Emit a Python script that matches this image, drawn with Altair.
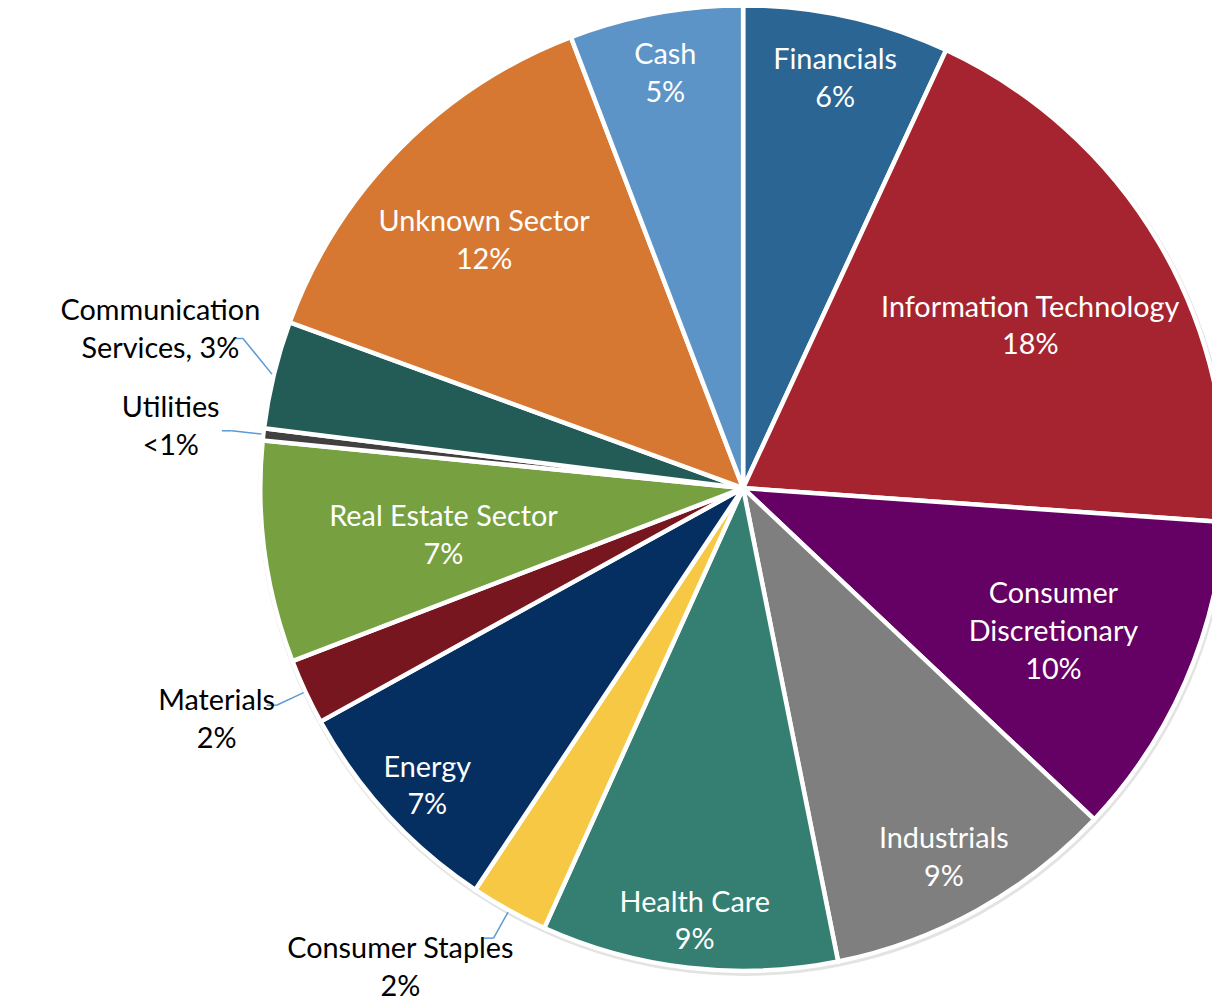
import altair as alt
import pandas as pd

sectors = ["Financials", "Information Technology", "Consumer Discretionary", "Industrials",
           "Health Care", "Consumer Staples", "Energy", "Materials", "Real Estate Sector",
           "Utilities", "Communication Services", "Unknown Sector", "Cash"]
shares = [6.9, 19.2, 10.9, 9.8, 9.9, 2.6, 7.6, 2.2, 7.4, 0.4, 3.6, 13.6, 5.8]
labels = ["Financials\n6%", "Information Technology\n18%", "Consumer\nDiscretionary\n10%",
          "Industrials\n9%", "Health Care\n9%", "Consumer Staples\n2%", "Energy\n7%",
          "Materials\n2%", "Real Estate Sector\n7%", "Utilities\n<1%",
          "Communication\nServices, 3%", "Unknown Sector\n12%", "Cash\n5%"]
colors = ["#2A6594", "#A62430", "#650064", "#7F7F7F", "#347F71", "#F6C843", "#052F61",
          "#77161F", "#77A141", "#404040", "#235C56", "#D67832", "#5D94C7"]

df = pd.DataFrame({"sector": sectors, "share": shares, "label": labels,
                   "idx": list(range(len(sectors)))})
df["nlines"] = [len(s.split("\n")) for s in labels]
df["chars"] = [max(len(p) for p in s.split("\n")) for s in labels]

CX, CY, R = 740, 480, 486
FONT = "Lato"
FS = 29
LH = 38

base = (alt.Chart(df)
        .transform_window(cum="sum(share)", sort=[alt.SortField("idx")], frame=[None, 0])
        .transform_joinaggregate(total="sum(share)")
        .transform_calculate(ang="2*PI*(datum.cum - datum.share/2)/datum.total",
                             frac="datum.share/datum.total"))

shadow = alt.Chart(df).mark_arc(outerRadius=R + 3, color="#d0d0d0", opacity=0.6).encode(
    theta=alt.Theta("share:Q", stack=True),
    order=alt.Order("idx:Q"),
    x=alt.value(CX + 1), y=alt.value(CY + 2))

pie = alt.Chart(df).mark_arc(outerRadius=R, stroke="white", strokeWidth=4.5).encode(
    theta=alt.Theta("share:Q", stack=True),
    order=alt.Order("idx:Q"),
    color=alt.Color("sector:N", scale=alt.Scale(domain=sectors, range=colors), legend=None),
    x=alt.value(CX), y=alt.value(CY))

# best-fit style placement: wide labels in near-horizontal wedges move inward
inside = (base.transform_filter("datum.frac >= 0.04")
          .transform_calculate(w="clamp((datum.chars - 8)/6, 0, 1)")
          .transform_calculate(r="432 - 130*pow(sin(datum.ang), 2)*datum.w")
          .transform_calculate(px=f"{CX} + datum.r*sin(datum.ang)",
                               py=f"{CY} - datum.r*cos(datum.ang) - (datum.nlines - 1)*{LH / 2}")
          .mark_text(font=FONT, fontSize=FS, color="white", lineBreak="\n", lineHeight=LH,
                     align="center", baseline="middle", dy=8)
          .encode(x=alt.X("px:Q", scale=None, axis=None),
                  y=alt.Y("py:Q", scale=None, axis=None),
                  text="label:N"))

# outside labels for thin slices; labels above the horizontal get lifted clear of neighbours
small = (base.transform_filter("datum.frac < 0.04")
         .transform_calculate(lift="clamp((cos(datum.ang) - 0.12)*250, 0, 40)"))

leaders = (small
           .transform_calculate(x1=f"{CX} + {R + 2}*sin(datum.ang)",
                                y1=f"{CY} - {R + 2}*cos(datum.ang)",
                                x2=f"{CX} + {R + 32}*sin(datum.ang)",
                                y2=f"{CY} - {R + 32}*cos(datum.ang) - datum.lift")
           .mark_rule(color="#5B9BD5", strokeWidth=1.5)
           .encode(x=alt.X("x1:Q", scale=None, axis=None),
                   y=alt.Y("y1:Q", scale=None, axis=None),
                   x2="x2:Q", y2="y2:Q"))

leader_tails = (small
                .transform_calculate(x1=f"{CX} + {R + 32}*sin(datum.ang)",
                                     y1=f"{CY} - {R + 32}*cos(datum.ang) - datum.lift")
                .transform_calculate(x2="datum.x1 - 10")
                .mark_rule(color="#5B9BD5", strokeWidth=1.5)
                .encode(x=alt.X("x1:Q", scale=None, axis=None),
                        y=alt.Y("y1:Q", scale=None, axis=None),
                        x2="x2:Q"))

outside = (small
           .transform_calculate(ax=f"{CX} + {R + 44}*sin(datum.ang)",
                                ay=f"{CY} - {R + 44}*cos(datum.ang)")
           .transform_calculate(px="datum.ax - datum.chars*5.5",
                                py=f"datum.ay - datum.lift - cos(datum.ang)*datum.nlines*{LH}*0.3 - (datum.nlines - 1)*{LH / 2}")
           .mark_text(font=FONT, fontSize=FS, color="black", lineBreak="\n", lineHeight=LH,
                      align="center", baseline="middle")
           .encode(x=alt.X("px:Q", scale=None, axis=None),
                   y=alt.Y("py:Q", scale=None, axis=None),
                   text="label:N"))

chart = (alt.layer(shadow, pie, inside, leaders, leader_tails, outside)
         .properties(width=1212, height=996, padding=0, autosize=alt.AutoSizeParams(type="none"),
                     background="white")
         .configure_view(stroke=None))

chart.save("out.html", embed_options={"renderer": "svg", "actions": False})
